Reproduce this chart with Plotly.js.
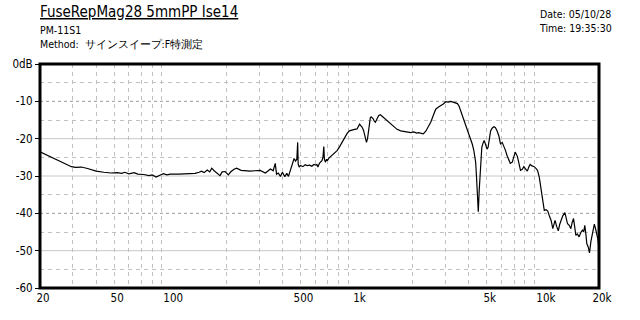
<!DOCTYPE html>
<html>
<head>
<meta charset="utf-8">
<script src="https://cdn.plot.ly/plotly-3.0.1.min.js"></script>
<style>html,body{margin:0;padding:0;background:#fff;}#chart{width:640px;height:320px;}</style>
</head>
<body>
<div id="chart"></div>
<script>
var freq = [20,22,24,27,29.5,31,33.3,36,40,44,48,52,55,57,60,64,67,72,77,80,84,88,92,96,100,111,122,136,143,147,152,158,163,167,172,178,185,190,197,205,212,220,227,240,255,268,285,304,324,337,345,357,366,372,380,390,400,412,422,431,438,444,455,462,470,478,483,486,492,500,515,530,542,560,575,590,605,612,620,632,645,652,660,667,672,680,690,697,710,726,750,770,786,810,836,862,890,915,946,975,1006,1025,1038,1055,1070,1090,1102,1115,1130,1145,1160,1175,1186,1200,1225,1245,1262,1290,1315,1342,1370,1398,1430,1462,1500,1540,1588,1650,1726,1800,1870,1954,2030,2100,2150,2210,2280,2352,2420,2500,2580,2660,2740,2832,2920,3012,3100,3206,3350,3478,3550,3620,3700,3768,3850,3928,4010,4090,4180,4260,4356,4400,4440,4500,4550,4600,4650,4700,4770,4840,4920,5010,5080,5130,5240,5340,5460,5550,5650,5800,5920,6050,6160,6300,6420,6550,6680,6850,6950,7100,7300,7450,7580,7750,7900,8100,8250,8400,8540,8750,8980,9200,9360,9560,9760,9960,10170,10400,10620,10850,11070,11300,11620,11850,12100,12300,12500,12800,13120,13350,13560,13850,14120,14350,14600,14800,15020,15300,15640,15950,16300,16550,16780,17000,17200,17500,17780,18100,18520,18880,19100,19460,19700,19860,19950,20000];
var level = [-23.5,-24.5,-25.4,-26.6,-27.5,-27.7,-27.6,-28.0,-28.7,-29.0,-29.2,-29.1,-29.3,-29.0,-29.4,-29.1,-29.5,-29.6,-29.9,-29.7,-30.3,-29.8,-29.4,-29.7,-29.5,-29.5,-29.5,-29.3,-29.0,-28.7,-29.1,-28.4,-28.9,-27.9,-28.6,-29.2,-29.9,-28.9,-28.8,-29.7,-28.8,-28.2,-27.9,-28.5,-28.6,-28.7,-28.6,-28.5,-29.2,-28.6,-28.1,-28.6,-26.6,-29.5,-29.2,-30.1,-29.0,-30.2,-29.3,-30.1,-29.0,-27.8,-26.3,-25.3,-26.0,-25.5,-21.0,-26.8,-27.6,-27.2,-27.5,-27.0,-27.2,-27.1,-27.4,-26.9,-27.1,-26.9,-27.6,-26.6,-26.1,-25.9,-25.0,-22.1,-25.5,-26.3,-25.5,-25.9,-25.2,-24.8,-24.2,-23.6,-23.2,-22.2,-21.0,-19.7,-18.6,-17.9,-17.6,-17.5,-17.4,-16.8,-16.1,-16.6,-16.9,-17.8,-18.8,-19.7,-21.0,-20.0,-17.5,-15.2,-14.3,-14.2,-14.6,-15.3,-15.6,-14.6,-13.8,-13.6,-14.0,-14.3,-14.7,-15.2,-15.8,-16.3,-17.0,-17.5,-17.9,-18.1,-18.2,-18.4,-18.2,-18.5,-18.4,-18.6,-18.7,-18.0,-17.0,-15.6,-13.8,-12.1,-11.6,-11.2,-10.7,-10.1,-10.2,-10.0,-10.3,-10.6,-11.3,-12.5,-13.8,-14.8,-16.0,-17.4,-18.8,-20.1,-21.5,-23.2,-26.3,-30.0,-33.9,-39.6,-34.0,-29.4,-25.0,-22.3,-21.2,-20.5,-21.5,-22.8,-22.3,-21.0,-17.9,-17.2,-16.8,-17.0,-17.7,-19.2,-21.4,-21.0,-21.9,-23.2,-24.5,-25.7,-26.6,-26.3,-25.0,-23.6,-24.8,-26.7,-28.5,-28.2,-27.5,-28.2,-28.7,-27.6,-26.9,-27.3,-27.5,-28.0,-28.5,-30.3,-33.0,-36.1,-39.2,-39.0,-39.4,-40.8,-41.9,-44.1,-41.9,-43.5,-44.7,-43.0,-41.9,-40.6,-39.8,-41.5,-42.8,-43.2,-44.1,-42.5,-41.4,-43.5,-45.9,-45.5,-46.3,-45.2,-44.5,-45.0,-43.2,-45.5,-48.1,-49.0,-50.6,-47.5,-45.0,-42.9,-43.8,-45.4,-46.8,-48.1,-49.0,-58.0];

var xTickVals = [20,50,100,500,1000,5000,10000,20000];
var xTickText = ['20','50','100','500','1k','5k','10k','20k'];
var xMinorVals = [30,40,50,60,70,80,90,200,300,400,500,600,700,800,900,2000,3000,4000,5000,6000,7000,8000,9000];
var xDottedVals = [100,1000,10000];
var yTickVals = [0,-10,-20,-30,-40,-50,-60];
var yTickText = ['0dB','-10','-20','-30','-40','-50','-60'];
var yMinorVals = [-5,-15,-25,-35,-45,-55];
var ySolidVals = [-20,-30,-50];
var yDottedVals = [-10,-40];

var FONT = '"DejaVu Sans Condensed", "Liberation Sans", sans-serif';

var shapes = [];
xDottedVals.forEach(function(v){
  shapes.push({type:'line', xref:'x', yref:'paper', x0:Math.log10(v), x1:Math.log10(v), y0:0, y1:1, layer:'below',
    line:{color:'#999999', width:1, dash:'dot'}});
});
ySolidVals.forEach(function(v){
  shapes.push({type:'line', xref:'paper', yref:'y', x0:0, x1:1, y0:v, y1:v, layer:'below',
    line:{color:'#c8c8c8', width:1}});
});
yDottedVals.forEach(function(v){
  shapes.push({type:'line', xref:'paper', yref:'y', x0:0, x1:1, y0:v, y1:v, layer:'below',
    line:{color:'#999999', width:1, dash:'dot'}});
});
shapes.push({type:'rect', xref:'paper', yref:'paper', x0:0, x1:1, y0:0, y1:1, layer:'above',
  line:{color:'#000', width:3}});

var trace = {x:freq, y:level, type:'scatter', mode:'lines', line:{color:'#000', width:1.2}, hoverinfo:'skip'};

var layout = {
  width:640, height:320,
  margin:{l:40, r:41, t:64, b:32},
  paper_bgcolor:'#fff', plot_bgcolor:'#fff',
  showlegend:false,
  font:{family:FONT, size:11, color:'#000'},
  xaxis:{type:'log', range:[Math.log10(20), Math.log10(20000)], tickvals:xTickVals, ticktext:xTickText,
    showgrid:false, zeroline:false, showline:false, ticks:'', ticklabelshift:3, ticklabelstandoff:1,
    tickfont:{family:FONT, size:11.5, color:'#000'},
    minor:{tickmode:'array', tickvals:xMinorVals, showgrid:true, gridcolor:'#c0c0c0', griddash:'4px,4px', gridwidth:1, ticks:''}},
  yaxis:{range:[-60,0], tickvals:yTickVals, ticktext:yTickText, showgrid:false, zeroline:false, showline:false,
    ticks:'outside', ticklen:4, tickcolor:'#000', tickwidth:1,
    tickfont:{family:FONT, size:11.5, color:'#000'},
    minor:{tickmode:'array', tickvals:yMinorVals, showgrid:true, gridcolor:'#c0c0c0', griddash:'4px,4px', gridwidth:1, ticks:''}},
  shapes:shapes,
  annotations:[
    {xref:'paper', yref:'paper', x:0, y:1, xanchor:'left', yanchor:'middle', xshift:-2, yshift:52, showarrow:false,
      text:'<u>FuseRepMag28 5mmPP Ise14</u>', font:{family:FONT, size:15, color:'#000'}},
    {xref:'paper', yref:'paper', x:0, y:1, xanchor:'left', yanchor:'middle', xshift:-2, yshift:27, showarrow:false,
      text:'PM-11S1<br>Method:  \u30b5\u30a4\u30f3\u30b9\u30a4\u30fc\u30d7:F\u7279\u6e2c\u5b9a', align:'left',
      font:{family:FONT, size:10.5, color:'#000'}},
    {xref:'paper', yref:'paper', x:1, y:1, xanchor:'right', yanchor:'middle', xshift:15, yshift:43, showarrow:false,
      text:'Date: 05/10/28<br>Time: 19:35:30', align:'left', font:{family:FONT, size:10.5, color:'#000'}}
  ]
};

Plotly.newPlot('chart', [trace], layout, {staticPlot:true, displayModeBar:false});
</script>
</body>
</html>
